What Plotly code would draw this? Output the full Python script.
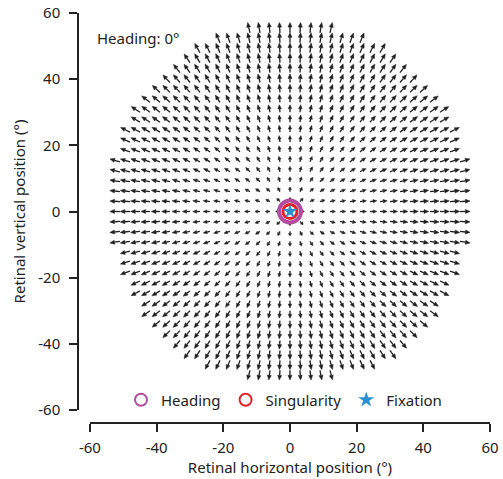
import numpy as np
import plotly.graph_objects as go

# ---- data ----
grid_step = 3  # degrees between arrow tails
row_y = [54, 51, 48, 45, 42, 39, 36, 33, 30, 27, 24, 21, 18, 15, 12, 9, 6, 3, 0,
         -3, -6, -9, -12, -15, -18, -21, -24, -27, -30, -33, -36, -39, -42, -45, -48]
row_halfwidth = [12, 21, 27, 30, 33, 36, 39, 42, 45, 45, 48, 48, 48, 51, 51, 51, 51, 51, 51,
                 51, 51, 51, 48, 48, 48, 45, 45, 42, 42, 39, 36, 33, 30, 24, 12]
# radial expansion: arrow length (deg) = flow_base + flow_gain * eccentricity
flow_base = 1.2
flow_gain = 0.036
heading = [0.0, 0.0]
singularity = [0.0, 0.0]
fixation = [0.0, 0.0]
x_ticks = [-60, -40, -20, 0, 20, 40, 60]
y_ticks = [-60, -40, -20, 0, 20, 40, 60]

arrow_col = "#1e1e1e"
font_family = "'Noto Sans', 'Open Sans', sans-serif"
fs = 15

# ---- build arrows ----
sx, sy, hx, hy = [], [], [], []
head_len, head_half = 1.4, 0.6
for yv, hw in zip(row_y, row_halfwidth):
    for xv in range(-hw, hw + 1, grid_step):
        r = np.hypot(xv, yv)
        if r == 0:
            continue
        L = flow_base + flow_gain * r
        ux, uy = xv / r, yv / r
        tx, ty = xv + L * ux, yv + L * uy
        s = min(1.0, 0.55 * L / head_len)
        hl, hh = head_len * s, head_half * max(s, 0.8)
        bx, by = tx - hl * ux, ty - hl * uy
        sx += [xv, bx, None]
        sy += [yv, by, None]
        px, py = -uy, ux
        hx += [tx, bx + hh * px, bx - hh * px, tx, None]
        hy += [ty, by + hh * py, by - hh * py, ty, None]

fig = go.Figure()
fig.add_trace(go.Scatter(x=sx, y=sy, mode="lines", line=dict(color=arrow_col, width=1.3),
                         hoverinfo="skip", showlegend=False))
fig.add_trace(go.Scatter(x=hx, y=hy, mode="lines", fill="toself", fillcolor=arrow_col,
                         line=dict(color=arrow_col, width=0.5), hoverinfo="skip", showlegend=False))

fig.add_trace(go.Scatter(x=[heading[0]], y=[heading[1]], mode="markers", name="Heading",
                         marker=dict(symbol="circle", size=22, color="white",
                                     line=dict(color="#b24d9f", width=4))))
fig.add_trace(go.Scatter(x=[singularity[0]], y=[singularity[1]], mode="markers", name="Singularity",
                         marker=dict(symbol="circle", size=14, color="white",
                                     line=dict(color="#e41f26", width=3))))
fig.add_trace(go.Scatter(x=[fixation[0]], y=[fixation[1]], mode="markers", name="Fixation",
                         marker=dict(symbol="star", size=11, color="#2b8fd0",
                                     line=dict(width=0))))

fig.add_annotation(x=-58.5, y=52.5, xref="x", yref="y", text="Heading: 0°", showarrow=False,
                   xanchor="left", yanchor="middle", font=dict(size=fs, color="#222"))

fig.update_layout(
    width=503, height=479,
    margin=dict(l=78, r=13, t=13, b=56, autoexpand=False),
    paper_bgcolor="white", plot_bgcolor="white",
    font=dict(family=font_family, size=fs, color="#222"),
    showlegend=True,
    legend=dict(orientation="h", x=0.5, xanchor="center", y=0.056, yanchor="middle",
                bgcolor="rgba(0,0,0,0)", font=dict(size=fs), itemsizing="constant",
                itemwidth=30, tracegroupgap=0),
    xaxis=dict(range=[-60, 60], domain=[0.029, 1], anchor="free", position=0, automargin=False,
               tickvals=x_ticks, ticktext=[str(v) for v in x_ticks],
               showgrid=False, zeroline=False, showline=True, linecolor="#222", linewidth=1.5,
               ticks="outside", ticklen=8, tickwidth=1.5, tickcolor="#222",
               ticklabelstandoff=3,
               title=dict(text="Retinal horizontal position (°)", standoff=4, font=dict(size=fs))),
    yaxis=dict(range=[-60, 60], domain=[0.0317, 1], anchor="free", position=0, automargin=False,
               tickvals=y_ticks, ticktext=[str(v) for v in y_ticks],
               showgrid=False, zeroline=False, showline=True, linecolor="#222", linewidth=1.5,
               ticks="outside", ticklen=8, tickwidth=1.5, tickcolor="#222",
               ticklabelstandoff=6,
               title=dict(text="Retinal vertical position (°)", standoff=8, font=dict(size=fs))),
)

fig.write_html("out.html", config={"displayModeBar": False},
               post_script="document.body.style.margin='0';document.body.style.overflow='hidden';")
